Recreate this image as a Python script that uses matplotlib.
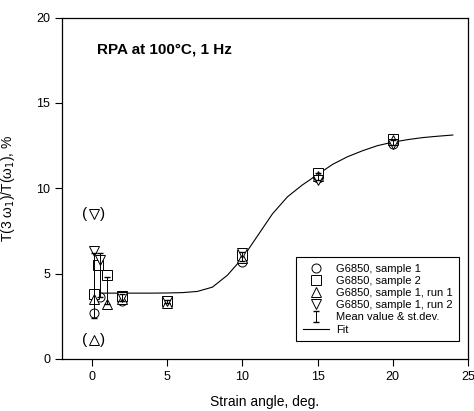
import matplotlib.pyplot as plt

plt.rcParams['font.family'] = ['Liberation Sans', 'DejaVu Sans']

# sample 1 (circles)
s1_x = [0.1, 0.5, 2, 5, 10, 15, 20]
s1_y = [2.7, 3.6, 3.4, 3.3, 5.7, 10.6, 12.6]
# sample 2 (squares)
s2_x = [0.1, 0.4, 1, 2, 5, 10, 15, 20]
s2_y = [3.8, 5.5, 4.9, 3.7, 3.4, 6.1, 10.9, 12.9]
# sample 1, run 1 (up triangles)
r1_x = [0.1, 1, 2, 5, 10, 15, 20]
r1_y = [3.5, 3.2, 3.5, 3.3, 5.9, 10.7, 12.8]
# sample 1, run 2 (down triangles)
r2_x = [0.1, 0.5, 2, 5, 10, 15, 20]
r2_y = [6.3, 5.8, 3.6, 3.4, 6.2, 10.5, 12.6]
# outliers shown in brackets
out_up = (0.1, 1.1)
out_down = (0.1, 8.5)
# mean values and std.dev
mean_x = [0.1, 0.5, 1, 2, 5, 10, 15, 20]
mean_y = [4.3, 4.9, 4.0, 3.6, 3.35, 6.0, 10.7, 12.7]
mean_err = [1.9, 1.3, 0.8, 0.2, 0.1, 0.25, 0.2, 0.15]
# fit curve
fit_x = [0, 1, 2, 3, 4, 5, 6, 7, 8, 9, 10, 11, 12, 13, 14, 15, 16, 17, 18, 19, 20, 21, 22, 23, 24]
fit_y = [3.85, 3.85, 3.85, 3.85, 3.85, 3.86, 3.88, 3.95, 4.2, 4.9, 5.9, 7.2, 8.5, 9.5, 10.2, 10.8, 11.4, 11.85, 12.2, 12.5, 12.7, 12.85, 12.97, 13.05, 13.12]

fig = plt.figure(figsize=(4.74, 4.11), dpi=100)
ax = fig.add_axes([0.131, 0.127, 0.856, 0.830])

mk = dict(mfc='white', mec='black', mew=0.7, ms=6.5, ls='none')
eb = ax.errorbar(mean_x, mean_y, yerr=mean_err, fmt='none', ecolor='black', elinewidth=0.7,
                 capsize=2.5, zorder=4)
hf, = ax.plot(fit_x, fit_y, color='black', lw=0.8, zorder=2)
h1, = ax.plot(s1_x, s1_y, marker='o', zorder=3, **mk)
h2, = ax.plot(s2_x, s2_y, marker='s', zorder=3, **mk)
h3, = ax.plot(r1_x, r1_y, marker='^', zorder=3, **mk)
h4, = ax.plot(r2_x, r2_y, marker='v', zorder=3, **mk)

# bracketed outliers
ax.plot(*out_up, marker='^', **mk)
ax.plot(*out_down, marker='v', **mk)
for pt in (out_up, out_down):
    ax.text(*pt, '(   )', ha='center', va='center', fontsize=11)

ax.set_xlim(-2, 25)
ax.set_ylim(0, 20)
ax.set_xticks([0, 5, 10, 15, 20, 25])
ax.set_yticks([0, 5, 10, 15, 20])
ax.tick_params(direction='out', length=5, width=0.8, labelsize=9, colors='black')
for s in ax.spines.values():
    s.set_linewidth(0.9)

ax.set_xlabel('Strain angle, deg.', fontsize=10, labelpad=9)
ax.set_ylabel('T(3 ω$_1$)/T(ω$_1$), %', fontsize=10, labelpad=14)
ax.text(0.085, 0.895, 'RPA at 100°C, 1 Hz', transform=ax.transAxes, fontsize=11,
        fontweight='bold')

leg = ax.legend([h1, h2, h3, h4, eb, hf],
                ['G6850, sample 1', 'G6850, sample 2', 'G6850, sample 1, run 1',
                 'G6850, sample 1, run 2', 'Mean value & st.dev.', 'Fit'],
                loc='lower right', bbox_to_anchor=(0.993, 0.035), fontsize=8,
                frameon=True, fancybox=False, edgecolor='black', framealpha=1,
                handlelength=2.4, labelspacing=0.2, borderpad=0.6, handletextpad=0.6)
leg.get_frame().set_linewidth(0.8)

fig.savefig('out.png', dpi=100)
